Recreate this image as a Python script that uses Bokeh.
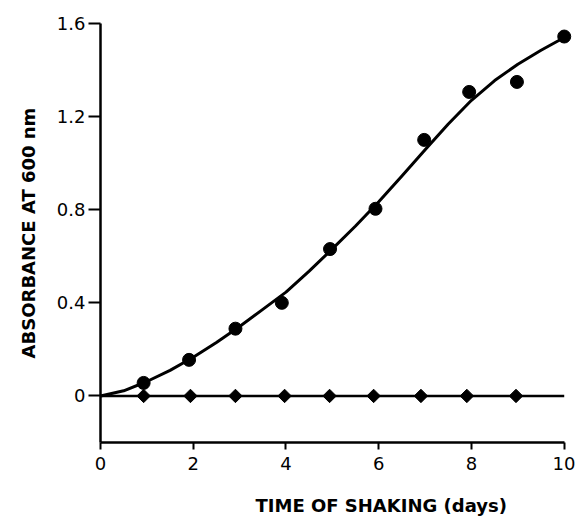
import math
from bokeh.plotting import figure
from bokeh.models import FixedTicker, Range1d, Title
from bokeh.embed import file_html
from bokeh.resources import INLINE

# fitted growth curve
curve_x = [0, 0.5, 1, 1.5, 2, 2.5, 3, 3.5, 4, 4.5, 5, 5.5, 6, 6.5, 7, 7.5, 8, 8.5, 9, 9.5, 10]
curve_y = [0, 0.022, 0.062, 0.11, 0.166, 0.23, 0.298, 0.372, 0.446, 0.536, 0.632, 0.73, 0.834,
           0.945, 1.058, 1.168, 1.27, 1.355, 1.425, 1.485, 1.54]

# shaken culture (filled circles)
days_c = [0.93, 1.91, 2.91, 3.91, 4.95, 5.93, 6.98, 7.95, 8.98, 10.0]
abs_c = [0.056, 0.155, 0.289, 0.40, 0.631, 0.804, 1.10, 1.306, 1.349, 1.544]

# control (diamonds)
days_d = [0.93, 1.94, 2.91, 3.97, 4.94, 5.89, 6.91, 7.90, 8.96]
abs_d = [0, 0, 0, 0, 0, 0, 0, 0, 0]
control_x = [0, 10]
control_y = [0, 0]

x_ticks = [0, 2, 4, 6, 8, 10]
x_tick_labels = {0: "0", 2: "2", 4: "4", 6: "6", 8: "8", 10: "10"}
y_ticks = [0, 0.4, 0.8, 1.2, 1.6]
y_tick_labels = {0: "0", 0.4: "0.4", 0.8: "0.8", 1.2: "1.2", 1.6: "1.6"}

x_label = "TIME OF SHAKING (days)"
y_label = "ABSORBANCE AT 600 nm"

p = figure(frame_width=473, frame_height=419, output_backend="svg", toolbar_location=None,
           x_range=Range1d(0, 10.2), y_range=Range1d(-0.2, 1.6),
           min_border_left=100, min_border_top=23, min_border_right=2, min_border_bottom=78)
p.outline_line_color = None
p.grid.visible = False
p.background_fill_color = "white"
p.border_fill_color = "white"

for ax in (p.xaxis[0], p.yaxis[0]):
    ax.axis_line_width = 2.5
    ax.axis_line_color = "black"
    ax.major_tick_line_width = 2
    ax.major_tick_line_color = "black"
    ax.minor_tick_line_color = None
    ax.major_tick_in = 0
    ax.major_label_text_font = "DejaVu Sans"
    ax.major_label_text_font_size = "18px"
    ax.major_label_text_color = "black"

p.xaxis[0].bounds = (0, 10)
p.xaxis[0].ticker = FixedTicker(ticks=x_ticks)
p.xaxis[0].major_label_overrides = x_tick_labels
p.xaxis[0].major_tick_out = 7
p.xaxis[0].major_label_standoff = 7

p.yaxis[0].ticker = FixedTicker(ticks=y_ticks)
p.yaxis[0].major_label_overrides = y_tick_labels
p.yaxis[0].major_tick_out = 12
p.yaxis[0].major_label_standoff = 3

p.line(control_x, control_y, line_color="black", line_width=2.5)
p.line(curve_x, curve_y, line_color="black", line_width=3, line_join="round")
p.scatter(days_c, abs_c, marker="circle", size=13, fill_color="black", line_color="black")
p.scatter(days_d, abs_d, marker="square", angle=math.pi / 4, size=9.5,
          fill_color="black", line_color="black")

p.add_layout(Title(text=x_label, align="left", offset=155, standoff=40,
                   text_font="DejaVu Sans", text_font_style="bold",
                   text_font_size="18px", text_color="black"), "below")
p.add_layout(Title(text=y_label, align="center", standoff=30,
                   text_font="DejaVu Sans", text_font_style="bold",
                   text_font_size="18px", text_color="black"), "left")

open("out.html", "w").write(file_html(p, INLINE))
